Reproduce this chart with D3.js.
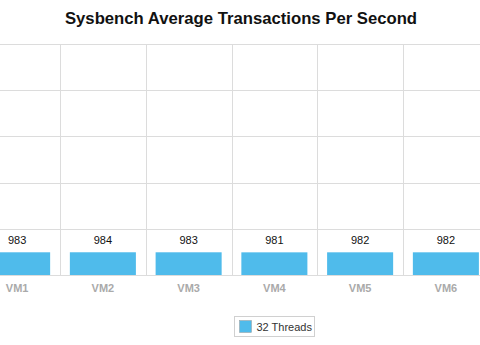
<!DOCTYPE html>
<html>
<head>
<meta charset="utf-8">
<script src="https://cdn.jsdelivr.net/npm/d3@7"></script>
<style>
  html, body { margin: 0; padding: 0; background: #fff; }
  svg { display: block; font-family: "Liberation Sans", Arial, sans-serif; }
</style>
</head>
<body>
<svg id="chart" width="480" height="345"></svg>
<script>
// Sysbench results, 32 threads
const categories = ["VM1", "VM2", "VM3", "VM4", "VM5", "VM6"];
const seriesName = "32 Threads";
const values = [983, 984, 983, 981, 982, 982];
const yTicks = [0, 2000, 4000, 6000, 8000, 10000];

const svg = d3.select("#chart");
const W = 480, H = 345;
const plotTop = 44, plotBottom = 275;

const x = d3.scaleBand()
  .domain(categories)
  .range([-25.75, 488.75])
  .paddingInner(0.23)
  .paddingOuter(0.115);

// band boundaries for the vertical gridlines
const step = x.step();
const bandStart = x.range()[0];

const y = d3.scaleLinear()
  .domain([0, 10000])
  .range([plotBottom, plotTop]);

// title
svg.append("text")
  .attr("x", W / 2 + 1)
  .attr("y", 24)
  .attr("text-anchor", "middle")
  .attr("font-size", 16.7)
  .attr("font-weight", "bold")
  .attr("fill", "#111")
  .text("Sysbench Average Transactions Per Second");

// horizontal gridlines
svg.append("g")
  .selectAll("line")
  .data(yTicks)
  .join("line")
  .attr("x1", 0)
  .attr("x2", W)
  .attr("y1", d => Math.round(y(d)) + 0.5)
  .attr("y2", d => Math.round(y(d)) + 0.5)
  .attr("stroke", "#dcdcdc")
  .attr("stroke-width", 1);

// vertical gridlines between categories
svg.append("g")
  .selectAll("line")
  .data(categories.slice(1))
  .join("line")
  .attr("x1", (d, i) => Math.round(bandStart + step * (i + 1)) + 0.5)
  .attr("x2", (d, i) => Math.round(bandStart + step * (i + 1)) + 0.5)
  .attr("y1", plotTop)
  .attr("y2", plotBottom)
  .attr("stroke", "#dcdcdc")
  .attr("stroke-width", 1);

// bars
svg.append("g")
  .selectAll("rect")
  .data(values)
  .join("rect")
  .attr("x", (d, i) => x(categories[i]))
  .attr("width", x.bandwidth())
  .attr("y", d => y(d))
  .attr("height", d => y(0) - y(d))
  .attr("fill", "#4fbbeb");

// value labels
svg.append("g")
  .selectAll("text")
  .data(values)
  .join("text")
  .attr("x", (d, i) => x(categories[i]) + x.bandwidth() / 2)
  .attr("y", d => y(d) - 8)
  .attr("text-anchor", "middle")
  .attr("font-size", 11)
  .attr("fill", "#111")
  .text(d => d);

// category axis
const xAxis = svg.append("g")
  .attr("transform", `translate(0,${plotBottom})`)
  .call(d3.axisBottom(x).tickSize(0).tickPadding(9));
xAxis.select(".domain").remove();
xAxis.selectAll("text")
  .attr("font-size", 11)
  .attr("font-weight", "bold")
  .attr("fill", "#aaaaaa")
  .attr("font-family", "Liberation Sans, Arial, sans-serif");

// legend
const legend = svg.append("g").attr("transform", "translate(234.5,316.5)");
legend.append("rect")
  .attr("width", 80)
  .attr("height", 20)
  .attr("fill", "#fff")
  .attr("stroke", "#d0d0d0");
legend.append("rect")
  .attr("x", 5)
  .attr("y", 4)
  .attr("width", 12)
  .attr("height", 12)
  .attr("fill", "#4fbbeb")
  .attr("stroke", "#999")
  .attr("stroke-width", 0.5);
legend.append("text")
  .attr("x", 22)
  .attr("y", 14)
  .attr("font-size", 11)
  .attr("fill", "#333")
  .text(seriesName);
</script>
</body>
</html>
